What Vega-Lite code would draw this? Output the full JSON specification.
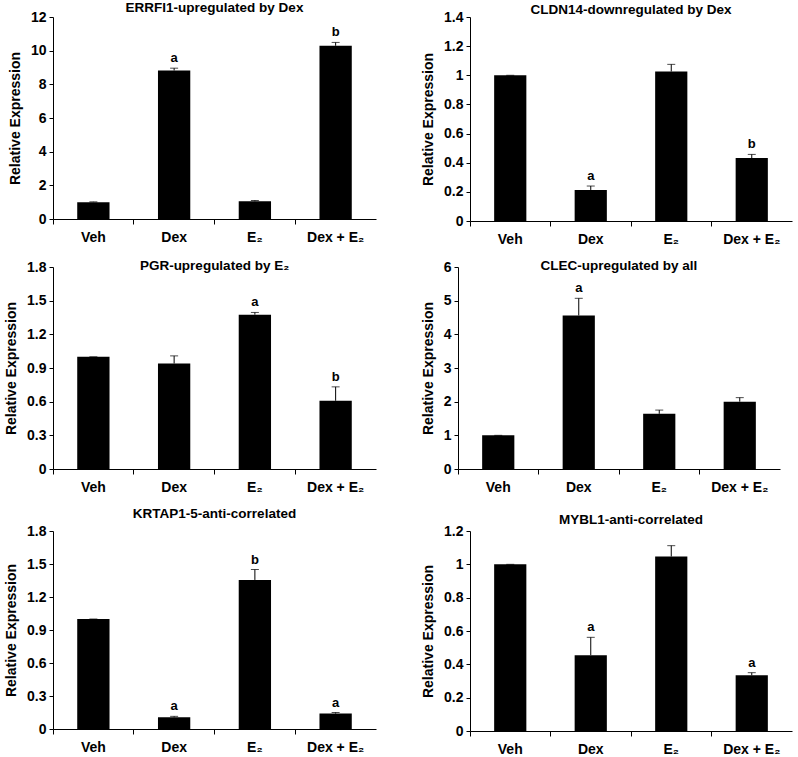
{
  "$schema": "https://vega.github.io/schema/vega-lite/v6.json",
  "padding": {"left": 4, "top": 0, "right": 2, "bottom": 0},
  "background": "white",
  "spacing": 12,
  "datasets": {
    "expr": [
      {"gene": "ERRFI1", "cond": "Veh", "value": 1.0, "top": 1.02, "letter": ""},
      {"gene": "ERRFI1", "cond": "Dex", "value": 8.82, "top": 8.96, "letter": "a"},
      {"gene": "ERRFI1", "cond": "E₂", "value": 1.05, "top": 1.1, "letter": ""},
      {"gene": "ERRFI1", "cond": "Dex + E₂", "value": 10.29, "top": 10.49, "letter": "b"},
      {"gene": "CLDN14", "cond": "Veh", "value": 1.0, "top": 1.0, "letter": ""},
      {"gene": "CLDN14", "cond": "Dex", "value": 0.213, "top": 0.24, "letter": "a"},
      {"gene": "CLDN14", "cond": "E₂", "value": 1.026, "top": 1.075, "letter": ""},
      {"gene": "CLDN14", "cond": "Dex + E₂", "value": 0.432, "top": 0.457, "letter": "b"},
      {"gene": "PGR", "cond": "Veh", "value": 1.0, "top": 1.0, "letter": ""},
      {"gene": "PGR", "cond": "Dex", "value": 0.94, "top": 1.008, "letter": ""},
      {"gene": "PGR", "cond": "E₂", "value": 1.375, "top": 1.395, "letter": "a"},
      {"gene": "PGR", "cond": "Dex + E₂", "value": 0.608, "top": 0.732, "letter": "b"},
      {"gene": "CLEC", "cond": "Veh", "value": 1.0, "top": 1.0, "letter": ""},
      {"gene": "CLEC", "cond": "Dex", "value": 4.56, "top": 5.07, "letter": "a"},
      {"gene": "CLEC", "cond": "E₂", "value": 1.64, "top": 1.75, "letter": ""},
      {"gene": "CLEC", "cond": "Dex + E₂", "value": 2.0, "top": 2.12, "letter": ""},
      {"gene": "KRTAP1-5", "cond": "Veh", "value": 1.0, "top": 1.0, "letter": ""},
      {"gene": "KRTAP1-5", "cond": "Dex", "value": 0.106, "top": 0.115, "letter": "a"},
      {"gene": "KRTAP1-5", "cond": "E₂", "value": 1.355, "top": 1.45, "letter": "b"},
      {"gene": "KRTAP1-5", "cond": "Dex + E₂", "value": 0.14, "top": 0.15, "letter": "a"},
      {"gene": "MYBL1", "cond": "Veh", "value": 1.0, "top": 1.0, "letter": ""},
      {"gene": "MYBL1", "cond": "Dex", "value": 0.455, "top": 0.562, "letter": "a"},
      {"gene": "MYBL1", "cond": "E₂", "value": 1.047, "top": 1.112, "letter": ""},
      {"gene": "MYBL1", "cond": "Dex + E₂", "value": 0.334, "top": 0.35, "letter": "a"}
    ]
  },
  "config": {
    "font": "Liberation Sans",
    "view": {"stroke": null},
    "axis": {
      "grid": false,
      "labelFont": "Liberation Sans",
      "labelFontWeight": "bold",
      "labelFontSize": 14,
      "labelColor": "black",
      "labelOverlap": false,
      "titleFont": "Liberation Sans",
      "titleFontWeight": "bold",
      "titleFontSize": 14,
      "titleColor": "black",
      "domainColor": "black",
      "tickColor": "black",
      "tickSize": 4
    },
    "title": {"font": "Liberation Sans", "fontWeight": "bold", "fontSize": 13.5, "color": "black", "anchor": "middle"}
  },
  "vconcat": [
    {
      "spacing": 45,
      "hconcat": [
        {
          "title": {"text": "ERRFI1-upregulated by Dex", "offset": -4},
          "width": 323, "height": 202,
          "data": {"name": "expr"},
          "transform": [{"filter": "datum.gene === 'ERRFI1'"}],
          "encoding": {"x": {"field": "cond", "type": "nominal", "sort": ["Veh", "Dex", "E₂", "Dex + E₂"], "scale": {"paddingInner": 0, "paddingOuter": 0}, "axis": {"title": null, "labelAngle": 0, "bandPosition": 0, "tickSize": 5, "labelPadding": 6}}},
          "layer": [
            {"mark": {"type": "bar", "color": "black", "width": {"band": 0.4}}, "encoding": {"y": {"field": "value", "type": "quantitative", "scale": {"domain": [0, 12], "nice": false}, "axis": {"title": "Relative Expression", "values": [0, 2, 4, 6, 8, 10, 12], "format": "~g", "labelPadding": 3, "titlePadding": 8}}}},
            {"mark": {"type": "rule", "color": "black"}, "encoding": {"y": {"field": "value", "type": "quantitative", "scale": {"domain": [0, 12], "nice": false}, "axis": {"title": "Relative Expression", "values": [0, 2, 4, 6, 8, 10, 12], "format": "~g", "labelPadding": 3, "titlePadding": 8}}, "y2": {"field": "top"}}},
            {"mark": {"type": "tick", "color": "black", "size": 8, "thickness": 1}, "encoding": {"y": {"field": "top", "type": "quantitative", "scale": {"domain": [0, 12], "nice": false}, "axis": {"title": "Relative Expression", "values": [0, 2, 4, 6, 8, 10, 12], "format": "~g", "labelPadding": 3, "titlePadding": 8}}}},
            {"mark": {"type": "text", "baseline": "bottom", "dy": -3, "fontWeight": "bold", "fontSize": 13, "color": "black"}, "encoding": {"y": {"field": "top", "type": "quantitative", "scale": {"domain": [0, 12], "nice": false}, "axis": {"title": "Relative Expression", "values": [0, 2, 4, 6, 8, 10, 12], "format": "~g", "labelPadding": 3, "titlePadding": 8}}, "text": {"field": "letter"}}}
          ]
        },
        {
          "title": {"text": "CLDN14-downregulated by Dex", "offset": -6},
          "width": 322, "height": 204,
          "data": {"name": "expr"},
          "transform": [{"filter": "datum.gene === 'CLDN14'"}],
          "encoding": {"x": {"field": "cond", "type": "nominal", "sort": ["Veh", "Dex", "E₂", "Dex + E₂"], "scale": {"paddingInner": 0, "paddingOuter": 0}, "axis": {"title": null, "labelAngle": 0, "bandPosition": 0, "tickSize": 5, "labelPadding": 6}}},
          "layer": [
            {"mark": {"type": "bar", "color": "black", "width": {"band": 0.4}}, "encoding": {"y": {"field": "value", "type": "quantitative", "scale": {"domain": [0, 1.4], "nice": false}, "axis": {"title": "Relative Expression", "values": [0, 0.2, 0.4, 0.6, 0.8, 1, 1.2, 1.4], "format": "~g", "labelPadding": 3, "titlePadding": 8}}}},
            {"mark": {"type": "rule", "color": "black"}, "encoding": {"y": {"field": "value", "type": "quantitative", "scale": {"domain": [0, 1.4], "nice": false}, "axis": {"title": "Relative Expression", "values": [0, 0.2, 0.4, 0.6, 0.8, 1, 1.2, 1.4], "format": "~g", "labelPadding": 3, "titlePadding": 8}}, "y2": {"field": "top"}}},
            {"mark": {"type": "tick", "color": "black", "size": 8, "thickness": 1}, "encoding": {"y": {"field": "top", "type": "quantitative", "scale": {"domain": [0, 1.4], "nice": false}, "axis": {"title": "Relative Expression", "values": [0, 0.2, 0.4, 0.6, 0.8, 1, 1.2, 1.4], "format": "~g", "labelPadding": 3, "titlePadding": 8}}}},
            {"mark": {"type": "text", "baseline": "bottom", "dy": -3, "fontWeight": "bold", "fontSize": 13, "color": "black"}, "encoding": {"y": {"field": "top", "type": "quantitative", "scale": {"domain": [0, 1.4], "nice": false}, "axis": {"title": "Relative Expression", "values": [0, 0.2, 0.4, 0.6, 0.8, 1, 1.2, 1.4], "format": "~g", "labelPadding": 3, "titlePadding": 8}}, "text": {"field": "letter"}}}
          ]
        }
      ]
    },
    {
      "spacing": 45,
      "hconcat": [
        {
          "title": {"text": "PGR-upregulated by E₂", "offset": -12},
          "width": 323, "height": 202,
          "data": {"name": "expr"},
          "transform": [{"filter": "datum.gene === 'PGR'"}],
          "encoding": {"x": {"field": "cond", "type": "nominal", "sort": ["Veh", "Dex", "E₂", "Dex + E₂"], "scale": {"paddingInner": 0, "paddingOuter": 0}, "axis": {"title": null, "labelAngle": 0, "bandPosition": 0, "tickSize": 5, "labelPadding": 6}}},
          "layer": [
            {"mark": {"type": "bar", "color": "black", "width": {"band": 0.4}}, "encoding": {"y": {"field": "value", "type": "quantitative", "scale": {"domain": [0, 1.8], "nice": false}, "axis": {"title": "Relative Expression", "values": [0, 0.3, 0.6, 0.9, 1.2, 1.5, 1.8], "format": "~g", "labelPadding": 3, "titlePadding": 8}}}},
            {"mark": {"type": "rule", "color": "black"}, "encoding": {"y": {"field": "value", "type": "quantitative", "scale": {"domain": [0, 1.8], "nice": false}, "axis": {"title": "Relative Expression", "values": [0, 0.3, 0.6, 0.9, 1.2, 1.5, 1.8], "format": "~g", "labelPadding": 3, "titlePadding": 8}}, "y2": {"field": "top"}}},
            {"mark": {"type": "tick", "color": "black", "size": 8, "thickness": 1}, "encoding": {"y": {"field": "top", "type": "quantitative", "scale": {"domain": [0, 1.8], "nice": false}, "axis": {"title": "Relative Expression", "values": [0, 0.3, 0.6, 0.9, 1.2, 1.5, 1.8], "format": "~g", "labelPadding": 3, "titlePadding": 8}}}},
            {"mark": {"type": "text", "baseline": "bottom", "dy": -3, "fontWeight": "bold", "fontSize": 13, "color": "black"}, "encoding": {"y": {"field": "top", "type": "quantitative", "scale": {"domain": [0, 1.8], "nice": false}, "axis": {"title": "Relative Expression", "values": [0, 0.3, 0.6, 0.9, 1.2, 1.5, 1.8], "format": "~g", "labelPadding": 3, "titlePadding": 8}}, "text": {"field": "letter"}}}
          ]
        },
        {
          "title": {"text": "CLEC-upregulated by all", "offset": -12},
          "width": 322, "height": 202,
          "data": {"name": "expr"},
          "transform": [{"filter": "datum.gene === 'CLEC'"}],
          "encoding": {"x": {"field": "cond", "type": "nominal", "sort": ["Veh", "Dex", "E₂", "Dex + E₂"], "scale": {"paddingInner": 0, "paddingOuter": 0}, "axis": {"title": null, "labelAngle": 0, "bandPosition": 0, "tickSize": 5, "labelPadding": 6}}},
          "layer": [
            {"mark": {"type": "bar", "color": "black", "width": {"band": 0.4}}, "encoding": {"y": {"field": "value", "type": "quantitative", "scale": {"domain": [0, 6], "nice": false}, "axis": {"title": "Relative Expression", "values": [0, 1, 2, 3, 4, 5, 6], "format": "~g", "labelPadding": 3, "titlePadding": 8}}}},
            {"mark": {"type": "rule", "color": "black"}, "encoding": {"y": {"field": "value", "type": "quantitative", "scale": {"domain": [0, 6], "nice": false}, "axis": {"title": "Relative Expression", "values": [0, 1, 2, 3, 4, 5, 6], "format": "~g", "labelPadding": 3, "titlePadding": 8}}, "y2": {"field": "top"}}},
            {"mark": {"type": "tick", "color": "black", "size": 8, "thickness": 1}, "encoding": {"y": {"field": "top", "type": "quantitative", "scale": {"domain": [0, 6], "nice": false}, "axis": {"title": "Relative Expression", "values": [0, 1, 2, 3, 4, 5, 6], "format": "~g", "labelPadding": 3, "titlePadding": 8}}}},
            {"mark": {"type": "text", "baseline": "bottom", "dy": -3, "fontWeight": "bold", "fontSize": 13, "color": "black"}, "encoding": {"y": {"field": "top", "type": "quantitative", "scale": {"domain": [0, 6], "nice": false}, "axis": {"title": "Relative Expression", "values": [0, 1, 2, 3, 4, 5, 6], "format": "~g", "labelPadding": 3, "titlePadding": 8}}, "text": {"field": "letter"}}}
          ]
        }
      ]
    },
    {
      "spacing": 45,
      "hconcat": [
        {
          "title": {"text": "KRTAP1-5-anti-correlated", "offset": 4},
          "width": 323, "height": 198,
          "data": {"name": "expr"},
          "transform": [{"filter": "datum.gene === 'KRTAP1-5'"}],
          "encoding": {"x": {"field": "cond", "type": "nominal", "sort": ["Veh", "Dex", "E₂", "Dex + E₂"], "scale": {"paddingInner": 0, "paddingOuter": 0}, "axis": {"title": null, "labelAngle": 0, "bandPosition": 0, "tickSize": 5, "labelPadding": 6}}},
          "layer": [
            {"mark": {"type": "bar", "color": "black", "width": {"band": 0.4}}, "encoding": {"y": {"field": "value", "type": "quantitative", "scale": {"domain": [0, 1.8], "nice": false}, "axis": {"title": "Relative Expression", "values": [0, 0.3, 0.6, 0.9, 1.2, 1.5, 1.8], "format": "~g", "labelPadding": 3, "titlePadding": 8}}}},
            {"mark": {"type": "rule", "color": "black"}, "encoding": {"y": {"field": "value", "type": "quantitative", "scale": {"domain": [0, 1.8], "nice": false}, "axis": {"title": "Relative Expression", "values": [0, 0.3, 0.6, 0.9, 1.2, 1.5, 1.8], "format": "~g", "labelPadding": 3, "titlePadding": 8}}, "y2": {"field": "top"}}},
            {"mark": {"type": "tick", "color": "black", "size": 8, "thickness": 1}, "encoding": {"y": {"field": "top", "type": "quantitative", "scale": {"domain": [0, 1.8], "nice": false}, "axis": {"title": "Relative Expression", "values": [0, 0.3, 0.6, 0.9, 1.2, 1.5, 1.8], "format": "~g", "labelPadding": 3, "titlePadding": 8}}}},
            {"mark": {"type": "text", "baseline": "bottom", "dy": -3, "fontWeight": "bold", "fontSize": 13, "color": "black"}, "encoding": {"y": {"field": "top", "type": "quantitative", "scale": {"domain": [0, 1.8], "nice": false}, "axis": {"title": "Relative Expression", "values": [0, 0.3, 0.6, 0.9, 1.2, 1.5, 1.8], "format": "~g", "labelPadding": 3, "titlePadding": 8}}, "text": {"field": "letter"}}}
          ]
        },
        {
          "title": {"text": "MYBL1-anti-correlated", "offset": -2},
          "width": 322, "height": 200,
          "data": {"name": "expr"},
          "transform": [{"filter": "datum.gene === 'MYBL1'"}],
          "encoding": {"x": {"field": "cond", "type": "nominal", "sort": ["Veh", "Dex", "E₂", "Dex + E₂"], "scale": {"paddingInner": 0, "paddingOuter": 0}, "axis": {"title": null, "labelAngle": 0, "bandPosition": 0, "tickSize": 5, "labelPadding": 6}}},
          "layer": [
            {"mark": {"type": "bar", "color": "black", "width": {"band": 0.4}}, "encoding": {"y": {"field": "value", "type": "quantitative", "scale": {"domain": [0, 1.2], "nice": false}, "axis": {"title": "Relative Expression", "values": [0, 0.2, 0.4, 0.6, 0.8, 1, 1.2], "format": "~g", "labelPadding": 3, "titlePadding": 8}}}},
            {"mark": {"type": "rule", "color": "black"}, "encoding": {"y": {"field": "value", "type": "quantitative", "scale": {"domain": [0, 1.2], "nice": false}, "axis": {"title": "Relative Expression", "values": [0, 0.2, 0.4, 0.6, 0.8, 1, 1.2], "format": "~g", "labelPadding": 3, "titlePadding": 8}}, "y2": {"field": "top"}}},
            {"mark": {"type": "tick", "color": "black", "size": 8, "thickness": 1}, "encoding": {"y": {"field": "top", "type": "quantitative", "scale": {"domain": [0, 1.2], "nice": false}, "axis": {"title": "Relative Expression", "values": [0, 0.2, 0.4, 0.6, 0.8, 1, 1.2], "format": "~g", "labelPadding": 3, "titlePadding": 8}}}},
            {"mark": {"type": "text", "baseline": "bottom", "dy": -3, "fontWeight": "bold", "fontSize": 13, "color": "black"}, "encoding": {"y": {"field": "top", "type": "quantitative", "scale": {"domain": [0, 1.2], "nice": false}, "axis": {"title": "Relative Expression", "values": [0, 0.2, 0.4, 0.6, 0.8, 1, 1.2], "format": "~g", "labelPadding": 3, "titlePadding": 8}}, "text": {"field": "letter"}}}
          ]
        }
      ]
    }
  ]
}
